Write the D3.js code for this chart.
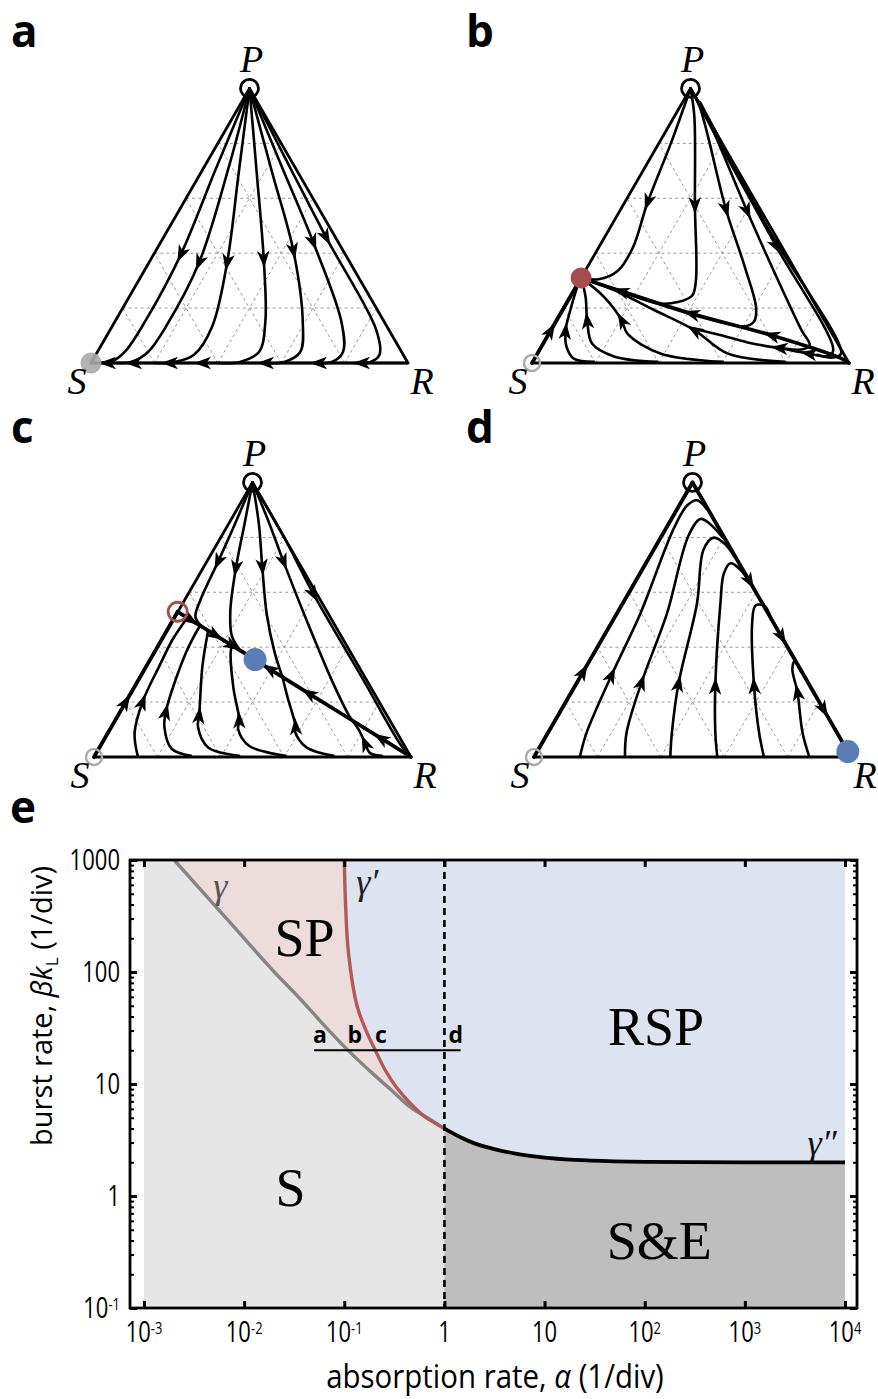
<!DOCTYPE html>
<html>
<head>
<meta charset="utf-8">
<script src="https://cdn.jsdelivr.net/npm/d3@7"></script>
<style>
  body { margin: 0; background: #fff; }
  svg { display: block; }
</style>
</head>
<body>
<div id="fig"></div>
<script>
// ---------- data (ternary coords: x along S->R base, y = height fraction, apex P at [0.5,1]) ----------
var gridLevels = [0.2, 0.4, 0.6, 0.8];

// panel a
var fixedA = [{x: 0.5, y: 1, kind: "open"}, {x: 0, y: 0, kind: "grayDot"}];
var flowsA = [
  {pts: [[0.5,1],[0.393,0.705],[0.283,0.394],[0.173,0.156],[0.11,0.045],[0.07,0.008],[0.03,0]], arrows: [2]},
  {pts: [[0.5,1],[0.435,0.715],[0.34,0.363],[0.236,0.132],[0.18,0.04],[0.13,0.005],[0.08,0]], arrows: [2]},
  {pts: [[0.5,1],[0.466,0.693],[0.429,0.363],[0.382,0.132],[0.325,0.03],[0.26,0.003],[0.2,0]], arrows: [2]},
  {pts: [[0.5,1],[0.523,0.69],[0.545,0.376],[0.55,0.15],[0.53,0.04],[0.47,0.004],[0.4,0]], arrows: [2]},
  {pts: [[0.5,1],[0.57,0.7],[0.639,0.406],[0.668,0.15],[0.66,0.04],[0.61,0.004],[0.55,0]], arrows: [2]},
  {pts: [[0.5,1],[0.6,0.72],[0.702,0.437],[0.79,0.15],[0.795,0.04],[0.76,0.004],[0.7,0]], arrows: [2]},
  {pts: [[0.5,1],[0.62,0.73],[0.743,0.455],[0.9,0.12],[0.91,0.03],[0.88,0.003],[0.83,0]], arrows: [2]},
  {pts: [[1,0],[0.853,0],[0.717,0],[0.55,0],[0.351,0],[0.246,0],[0.131,0],[0.052,0],[0,0]], arrows: [1,2,3,4,5,6,7]}
];
var thickA = [];

// panel b
var fixedB = [{x: 0.5, y: 1, kind: "open"}, {x: 0, y: 0, kind: "grayRing"}, {x: 0.155, y: 0.31, kind: "redDot"}];
var flowsB = [
  {pts: [[0.5,1],[0.438,0.8],[0.364,0.583],[0.318,0.42],[0.27,0.335],[0.21,0.305],[0.155,0.31]], arrows: [2]},
  {pts: [[0.5,1],[0.512,0.9],[0.514,0.571],[0.517,0.3],[0.505,0.245],[0.46,0.222],[0.4,0.217],[0.27,0.266],[0.155,0.31]], arrows: [2]},
  {pts: [[0.5,1],[0.528,0.937],[0.612,0.559],[0.671,0.351],[0.707,0.2],[0.7,0.15],[0.67,0.133],[0.62,0.142],[0.502,0.18]], arrows: [2]},
  {pts: [[0.5,1],[0.55,0.9],[0.679,0.552],[0.766,0.327],[0.85,0.12],[0.876,0.065],[0.855,0.05],[0.78,0.055],[0.68,0.075],[0.6,0.1],[0.512,0.125]], arrows: [2,7]},
  {pts: [[0.5,1],[0.62,0.74],[0.771,0.424],[0.95,0.045],[0.93,0.025],[0.87,0.035],[0.78,0.055]], arrows: [2,5]},
  {pts: [[0.53,0.95],[0.75,0.48],[0.975,0.035],[0.95,0.02],[0.9,0.03]], arrows: []},
  {pts: [[0.195,0.004],[0.132,0.016],[0.109,0.059],[0.106,0.12],[0.121,0.193],[0.143,0.278],[0.155,0.31]], arrows: [3]},
  {pts: [[0.396,0.004],[0.259,0.024],[0.19,0.07],[0.174,0.156],[0.169,0.241],[0.155,0.31]], arrows: [3]},
  {pts: [[0.602,0.004],[0.407,0.034],[0.301,0.107],[0.283,0.156],[0.227,0.241],[0.155,0.31]], arrows: [3]},
  {pts: [[0.797,0.004],[0.618,0.034],[0.512,0.12],[0.385,0.193],[0.259,0.266],[0.155,0.31]], arrows: [2]}
];
var thickB = [
  {pts: [[1,0],[0.977,0.016],[0.755,0.101],[0.502,0.18],[0.28,0.262],[0.155,0.31]], arrows: [2,3,4]},
  {pts: [[0,0],[0.06,0.12],[0.155,0.31]], arrows: [1]}
];

// panel c
var fixedC = [{x: 0.5, y: 1, kind: "open"}, {x: 0, y: 0, kind: "grayRing"},
              {x: 0.264, y: 0.529, kind: "redRing"}, {x: 0.508, y: 0.355, kind: "blueDot"}];
var flowsC = [
  {pts: [[0.5,1],[0.445,0.85],[0.39,0.708],[0.335,0.57],[0.32,0.51],[0.34,0.475]], arrows: [2]},
  {pts: [[0.5,1],[0.475,0.85],[0.447,0.684],[0.43,0.53],[0.435,0.44],[0.46,0.39]], arrows: [2]},
  {pts: [[0.5,1],[0.52,0.85],[0.531,0.69],[0.545,0.52],[0.57,0.38],[0.594,0.293]], arrows: [2]},
  {pts: [[0.5,1],[0.55,0.86],[0.599,0.708],[0.67,0.5],[0.75,0.28],[0.8,0.16],[0.814,0.134]], arrows: [2]},
  {pts: [[0.5,1],[0.6,0.8],[0.693,0.592],[0.85,0.28],[0.97,0.04],[1,0]], arrows: [2]},
  {pts: [[0.138,0.004],[0.128,0.088],[0.154,0.203],[0.206,0.331],[0.248,0.428],[0.29,0.5]], arrows: [2]},
  {pts: [[0.306,0.004],[0.245,0.03],[0.222,0.11],[0.227,0.167],[0.29,0.38],[0.335,0.48]], arrows: [3]},
  {pts: [[0.458,0.004],[0.36,0.035],[0.328,0.11],[0.332,0.155],[0.342,0.331],[0.36,0.46]], arrows: [3]},
  {pts: [[0.604,0.004],[0.49,0.04],[0.455,0.1],[0.458,0.136],[0.44,0.25],[0.431,0.38],[0.435,0.405]], arrows: [3]},
  {pts: [[0.756,0.004],[0.67,0.035],[0.635,0.09],[0.636,0.112],[0.61,0.22],[0.594,0.293]], arrows: [3]},
  {pts: [[0.908,0.004],[0.87,0.015],[0.855,0.051],[0.835,0.1],[0.814,0.134]], arrows: [2]}
];
var thickC = [
  {pts: [[0.264,0.529],[0.306,0.499],[0.384,0.443],[0.437,0.405],[0.508,0.355]], arrows: [1,2,3]},
  {pts: [[1,0],[0.903,0.07],[0.677,0.232],[0.552,0.322],[0.508,0.355]], arrows: [1,2,3]},
  {pts: [[0,0],[0.1015,0.203],[0.264,0.529]], arrows: [1]}
];

// panel d
var fixedD = [{x: 0.5, y: 1, kind: "open"}, {x: 0, y: 0, kind: "grayRing"}, {x: 0.99, y: 0.02, kind: "blueDot"}];
var flowsD = [
  {pts: [[0.145,0.002],[0.166,0.089],[0.245,0.299],[0.335,0.521],[0.44,0.83],[0.483,0.916],[0.514,0.935],[0.545,0.904],[0.565,0.87]], arrows: [2]},
  {pts: [[0.287,0.002],[0.292,0.089],[0.34,0.274],[0.419,0.521],[0.487,0.805],[0.525,0.867],[0.556,0.848],[0.595,0.8]], arrows: [2]},
  {pts: [[0.43,0.002],[0.435,0.089],[0.456,0.268],[0.514,0.558],[0.535,0.756],[0.567,0.799],[0.604,0.774],[0.632,0.73]], arrows: [2]},
  {pts: [[0.578,0.002],[0.572,0.089],[0.572,0.262],[0.588,0.558],[0.599,0.669],[0.62,0.706],[0.652,0.681],[0.68,0.635]], arrows: [2]},
  {pts: [[0.725,0.002],[0.71,0.089],[0.694,0.262],[0.688,0.484],[0.699,0.552],[0.728,0.55],[0.747,0.505]], arrows: [2]},
  {pts: [[0.868,0.002],[0.847,0.089],[0.831,0.237],[0.815,0.32],[0.822,0.348],[0.843,0.31]], arrows: [2]}
];
var thickD = [
  {pts: [[0.5,1],[0.681,0.638],[0.783,0.434],[0.9155,0.169],[1,0]], arrows: [1,2,3]},
  {pts: [[0,0],[0.1555,0.311],[0.5,1]], arrows: [1]}
];

// panel e: phase diagram (alpha, beta*kL)
var gammaPts   = [[0.002,1000],[0.005,400],[0.01,200],[0.02,100],[0.036,58],[0.06,35],[0.106,20.5],[0.2,12],[0.3,8.7],[0.457,6.2],[0.7,4.9],[1,4]];
var gammaP1Pts = [[0.1,1000],[0.103,400],[0.11,150],[0.134,50],[0.165,30],[0.204,20],[0.26,13],[0.336,9.2],[0.45,6.8],[0.62,5.2],[0.8,4.5],[1,4]];
var gammaP2Pts = [[1,4],[1.5,3.3],[2,2.95],[3,2.65],[5,2.4],[10,2.2],[20,2.1],[50,2.04],[100,2.02],[1000,2],[10000,2]];
var alphaRange = [1e-3, 1e4];
var betaRange = [0.1, 1000];
var criticalAlpha = 1;
var cutBeta = 20, cutAlpha = [0.05, 1.45];
var cutLabels = [{t: "a", a: 0.057}, {t: "b", a: 0.127}, {t: "c", a: 0.232}, {t: "d", a: 1.3}];
var regionLabels = [{t: "SP", a: 0.04, b: 200}, {t: "RSP", a: 130, b: 32}, {t: "S", a: 0.029, b: 1.18}, {t: "S&E", a: 140, b: 0.4}];
var curveLabels = [{t: "γ", a: 0.0058, b: 580, c: "#555"}, {t: "γ′", a: 0.17, b: 640, c: "#222"}, {t: "γ″", a: 5900, b: 3.0, c: "#111"}];
var xTickLabels = ["10^-3", "10^-2", "10^-1", "1", "10", "10^2", "10^3", "10^4"];
var xTickValues = [1e-3, 1e-2, 1e-1, 1, 10, 100, 1000, 10000];
var yTickLabels = ["10^-1", "1", "10", "100", "1000"];
var yTickValues = [0.1, 1, 10, 100, 1000];

// ---------- drawing ----------
var W = 878, H = 1399;
var svg = d3.select("#fig").append("svg").attr("width", W).attr("height", H);
svg.append("rect").attr("width", W).attr("height", H).attr("fill", "#fff");

var serif = "'Liberation Serif', 'Times New Roman', serif";
var sans = "'Open Sans', 'Liberation Sans', sans-serif";
var side = 317, tri = side * Math.sqrt(3) / 2;

function addArrow(g, node, px, py) {
  var L = node.getTotalLength(), best = 0, bd = Infinity;
  for (var l = 0; l <= L; l += 1) {
    var q = node.getPointAtLength(l);
    var dd = (q.x - px) * (q.x - px) + (q.y - py) * (q.y - py);
    if (dd < bd) { bd = dd; best = l; }
  }
  var a = node.getPointAtLength(Math.max(0, best - 3)),
      b = node.getPointAtLength(Math.min(L, best + 3)),
      c = node.getPointAtLength(best);
  var ang = Math.atan2(b.y - a.y, b.x - a.x) * 180 / Math.PI;
  g.append("path")
    .attr("d", "M8,0 L-9,-6.2 L-4.5,0 L-9,6.2 Z")
    .attr("transform", "translate(" + c.x + "," + c.y + ") rotate(" + ang + ")")
    .attr("fill", "#000");
}

function drawPanel(p) {
  var x = d3.scaleLinear().domain([0, 1]).range([p.sx, p.sx + side]);
  var y = d3.scaleLinear().domain([0, 1]).range([p.sy, p.sy - tri]);
  var g = svg.append("g");

  // dashed ternary grid
  gridLevels.forEach(function (k) {
    var segs = [[[k / 2, k], [1 - k / 2, k]], [[k, 0], [(1 + k) / 2, 1 - k]], [[k, 0], [k / 2, k]]];
    segs.forEach(function (s) {
      g.append("line")
        .attr("x1", x(s[0][0])).attr("y1", y(s[0][1]))
        .attr("x2", x(s[1][0])).attr("y2", y(s[1][1]))
        .attr("stroke", "#9a9a9a").attr("stroke-width", 1)
        .attr("stroke-dasharray", "3,3");
    });
  });

  // triangle outline
  g.append("path")
    .attr("d", d3.line()([[x(0), y(0)], [x(1), y(0)], [x(0.5), y(1)]]) + "Z")
    .attr("fill", "none").attr("stroke", "#000").attr("stroke-width", 2.8)
    .attr("stroke-linejoin", "round");

  var line = d3.line().x(function (d) { return x(d[0]); }).y(function (d) { return y(d[1]); })
    .curve(d3.curveCatmullRom.alpha(0.5));

  function drawFlow(t, w) {
    var path = g.append("path").attr("d", line(t.pts))
      .attr("fill", "none").attr("stroke", "#000").attr("stroke-width", w)
      .attr("stroke-linecap", "round");
    t.arrows.forEach(function (i) { addArrow(g, path.node(), x(t.pts[i][0]), y(t.pts[i][1])); });
  }
  p.flows.forEach(function (t) { drawFlow(t, 2.6); });
  p.thick.forEach(function (t) { drawFlow(t, 3.8); });

  // fixed points
  p.fixed.forEach(function (f) {
    var c = g.append("circle").attr("cx", x(f.x)).attr("cy", y(f.y));
    if (f.kind === "open") c.attr("r", 9).attr("fill", "none").attr("stroke", "#000").attr("stroke-width", 2.8);
    if (f.kind === "grayDot") c.attr("r", 10.5).attr("fill", "#aaaaaa").attr("fill-opacity", 0.9);
    if (f.kind === "grayRing") c.attr("r", 8).attr("fill", "none").attr("stroke", "#aaaaaa").attr("stroke-width", 2.4);
    if (f.kind === "redDot") c.attr("r", 10.5).attr("fill", "#a84d4d");
    if (f.kind === "redRing") c.attr("r", 9.5).attr("fill", "none").attr("stroke", "#a84d4d").attr("stroke-width", 2.8);
    if (f.kind === "blueDot") c.attr("r", 11.5).attr("fill", "#5b7db6");
  });

  // vertex labels
  function vtext(s, tx, ty) {
    g.append("text").attr("x", tx).attr("y", ty).attr("text-anchor", "middle")
      .attr("font-family", serif).attr("font-style", "italic").attr("font-size", "38px").text(s);
  }
  vtext("P", x(0.5) + 2, y(1) - 16);
  vtext("S", x(0) - 14, y(0) + 31);
  vtext("R", x(1) + 14, y(0) + 31);

  svg.append("text").attr("x", p.lx).attr("y", p.ly).text(p.letter)
    .attr("font-family", sans).attr("font-weight", 700).attr("font-size", "44px");
}

var panels = [
  {letter: "a", lx: 11, ly: 47, sx: 91, sy: 363, flows: flowsA, thick: thickA, fixed: fixedA},
  {letter: "b", lx: 466, ly: 47, sx: 532, sy: 363, flows: flowsB, thick: thickB, fixed: fixedB},
  {letter: "c", lx: 11, ly: 443, sx: 94, sy: 757, flows: flowsC, thick: thickC, fixed: fixedC},
  {letter: "d", lx: 466, ly: 443, sx: 534, sy: 757, flows: flowsD, thick: thickD, fixed: fixedD}
];
panels.forEach(drawPanel);

// ---------- panel e ----------
var xE = d3.scaleLog().domain(alphaRange).range([144, 845]);
var yE = d3.scaleLog().domain(betaRange).range([1308, 860]);
var fx0 = 130, fx1 = 857, fy0 = 860, fy1 = 1308;
var ge = svg.append("g");

svg.append("text").attr("x", 10).attr("y", 823).text("e")
  .attr("font-family", sans).attr("font-weight", 700).attr("font-size", "44px");

function pt(d) { return [xE(d[0]), yE(d[1])]; }
var poly = d3.line();

// S region (background)
ge.append("rect").attr("x", xE(alphaRange[0])).attr("y", yE(betaRange[1]))
  .attr("width", xE(alphaRange[1]) - xE(alphaRange[0])).attr("height", yE(betaRange[0]) - yE(betaRange[1]))
  .attr("fill", "#e6e6e6");
// SP region between gamma and gamma'
ge.append("path").attr("d", poly(gammaPts.map(pt).concat(gammaP1Pts.slice().reverse().map(pt))) + "Z")
  .attr("fill", "#ecdcdc");
// RSP region
var rsp = gammaP1Pts.concat(gammaP2Pts.slice(1)).concat([[alphaRange[1], betaRange[1]]]);
ge.append("path").attr("d", poly(rsp.map(pt)) + "Z").attr("fill", "#dde3ef");
// S&E region
var se = gammaP2Pts.concat([[alphaRange[1], betaRange[0]], [criticalAlpha, betaRange[0]]]);
ge.append("path").attr("d", poly(se.map(pt)) + "Z").attr("fill", "#bebebe");

var curve = d3.line().x(function (d) { return xE(d[0]); }).y(function (d) { return yE(d[1]); })
  .curve(d3.curveMonotoneX);
ge.append("path").attr("d", curve(gammaPts)).attr("fill", "none").attr("stroke", "#858585").attr("stroke-width", 3.4);
ge.append("path").attr("d", d3.line().x(function (d) { return xE(d[0]); }).y(function (d) { return yE(d[1]); })
  .curve(d3.curveCatmullRom)(gammaP1Pts))
  .attr("fill", "none").attr("stroke", "#b05a5a").attr("stroke-width", 3.4);
ge.append("path").attr("d", curve(gammaP2Pts)).attr("fill", "none").attr("stroke", "#000").attr("stroke-width", 3.8);

// alpha = 1 dashed line
ge.append("line").attr("x1", xE(criticalAlpha)).attr("x2", xE(criticalAlpha))
  .attr("y1", fy0).attr("y2", fy1)
  .attr("stroke", "#000").attr("stroke-width", 2.6).attr("stroke-dasharray", "7,5");

// cut line with a b c d
ge.append("line").attr("x1", xE(cutAlpha[0])).attr("x2", xE(cutAlpha[1]))
  .attr("y1", yE(cutBeta)).attr("y2", yE(cutBeta)).attr("stroke", "#000").attr("stroke-width", 2);
cutLabels.forEach(function (c) {
  ge.append("text").attr("x", xE(c.a)).attr("y", yE(cutBeta) - 7).attr("text-anchor", "middle")
    .attr("font-family", sans).attr("font-weight", 700).attr("font-size", "23px").text(c.t);
});

regionLabels.forEach(function (r) {
  ge.append("text").attr("x", xE(r.a)).attr("y", yE(r.b)).attr("text-anchor", "middle")
    .attr("dominant-baseline", "central")
    .attr("font-family", serif).attr("font-size", "54px").text(r.t);
});
curveLabels.forEach(function (r) {
  ge.append("text").attr("x", xE(r.a)).attr("y", yE(r.b)).attr("text-anchor", "middle")
    .attr("dominant-baseline", "central").attr("fill", r.c)
    .attr("font-family", serif).attr("font-style", "italic").attr("font-size", "36px").text(r.t);
});

// frame
ge.append("rect").attr("x", fx0).attr("y", fy0).attr("width", fx1 - fx0).attr("height", fy1 - fy0)
  .attr("fill", "none").attr("stroke", "#000").attr("stroke-width", 2.8);

// ticks (inward)
var yAll = yE.ticks();
function isMajor(v) { return Math.abs(Math.log10(v) - Math.round(Math.log10(v))) < 1e-6; }
var axL = ge.append("g").attr("transform", "translate(" + fx0 + ",0)")
  .call(d3.axisLeft(yE).tickValues(yAll).tickSize(-4).tickFormat(""));
var axR = ge.append("g").attr("transform", "translate(" + fx1 + ",0)")
  .call(d3.axisRight(yE).tickValues(yAll).tickSize(-4).tickFormat(""));
var axB = ge.append("g").attr("transform", "translate(0," + fy1 + ")")
  .call(d3.axisBottom(xE).tickValues(xTickValues).tickSize(-7).tickFormat(""));
var axT = ge.append("g").attr("transform", "translate(0," + fy0 + ")")
  .call(d3.axisTop(xE).tickValues(xTickValues).tickSize(-7).tickFormat(""));
[axL, axR, axB, axT].forEach(function (a) {
  a.select(".domain").remove();
  a.selectAll(".tick line").attr("stroke", "#000").attr("stroke-width", 2);
});
axL.selectAll(".tick line").filter(isMajor).attr("x2", 7).attr("stroke-width", 3);
axR.selectAll(".tick line").filter(isMajor).attr("x2", -7).attr("stroke-width", 3);
axB.selectAll(".tick line").attr("stroke-width", 3);
axT.selectAll(".tick line").attr("stroke-width", 3);

// tick labels, condensed
function tickLabel(tx, ty, anchor, s) {
  var t = ge.append("text").attr("transform", "translate(" + tx + "," + ty + ") scale(0.76,1)")
    .attr("text-anchor", anchor).attr("font-family", sans).attr("font-size", "29px");
  var parts = s.split("^");
  t.append("tspan").text(parts[0]);
  if (parts.length > 1) {
    t.append("tspan").attr("dy", "-0.45em").attr("font-size", "17px").text(parts[1]);
  }
}
xTickValues.forEach(function (v, i) { tickLabel(xE(v), fy1 + 34, "middle", xTickLabels[i]); });
yTickValues.forEach(function (v, i) { tickLabel(fx0 - 10, yE(v) + 10, "end", yTickLabels[i]); });

// axis titles
var xt = ge.append("text").attr("transform", "translate(495,1388) scale(0.92,1)").attr("text-anchor", "middle")
  .attr("font-family", sans).attr("font-size", "32px");
xt.append("tspan").text("absorption rate, ");
xt.append("tspan").attr("font-style", "italic").text("α");
xt.append("tspan").text(" (1/div)");

var yt = ge.append("text").attr("transform", "translate(52,1006) rotate(-90)").attr("text-anchor", "middle")
  .attr("font-family", sans).attr("font-size", "29px");
yt.append("tspan").text("burst rate, ");
yt.append("tspan").attr("font-style", "italic").text("βk");
yt.append("tspan").attr("font-size", "17px").attr("dy", "6").text("L");
yt.append("tspan").attr("dy", "-6").text(" (1/div)");
</script>
</body>
</html>
